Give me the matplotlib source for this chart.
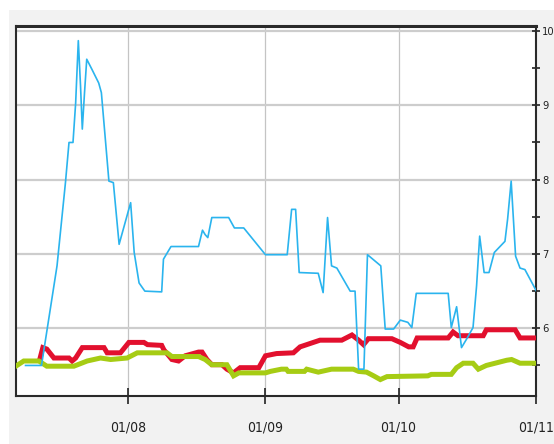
import matplotlib
matplotlib.use("Agg")
import matplotlib.pyplot as plt
import matplotlib.dates as mdates
from matplotlib.patches import Rectangle
from matplotlib.ticker import MultipleLocator
import pandas as pd

# ---- data (x = days relative to 1 Aug, y = value) ----
base_date = "2023-08-01"

blue_days = [-23.1, -19.5, -16.0, -14.1, -13.3, -12.4, -11.8, -11.2, -10.7, -10.3,
             -9.8, -9.3, -8.1, -6.6, -6.0, -4.3, -3.3, -2.0, 0.6, 1.4,
             2.5, 3.8, 7.6, 8.0, 9.7, 15.9, 16.8, 17.4, 18.0, 18.9,
             22.7, 24.0, 26.1, 31.0, 35.9, 36.9, 37.8, 38.6, 42.9, 44.0,
             45.0, 45.9, 47.1, 50.1, 51.2, 52.0, 53.2, 54.0, 57.0, 58.0,
             59.9, 61.4, 63.1, 64.0, 65.0, 72.2, 72.9, 74.1, 75.2, 76.5,
             77.8, 78.6, 79.3, 80.3, 81.4, 82.6, 85.0, 85.6, 86.4, 87.4,
             88.4, 89.5, 92.1]
blue_vals = [5.50, 5.50, 6.84, 7.96, 8.50, 8.50, 9.03, 9.87, 9.26, 8.68,
             9.17, 9.62, 9.48, 9.30, 9.17, 7.98, 7.96, 7.13, 7.69, 7.02,
             6.61, 6.50, 6.49, 6.93, 7.10, 7.10, 7.32, 7.26, 7.22, 7.49,
             7.49, 7.35, 7.35, 6.99, 6.99, 7.60, 7.60, 6.75, 6.74, 6.48,
             7.49, 6.84, 6.81, 6.50, 6.50, 5.45, 5.45, 6.99, 6.84, 5.99,
             5.99, 6.11, 6.08, 6.01, 6.47, 6.47, 6.01, 6.29, 5.74, 5.87,
             6.01, 6.57, 7.24, 6.75, 6.75, 7.02, 7.17, 7.47, 7.98, 6.97,
             6.81, 6.79, 6.50]

red_days = [-19.9, -19.2, -18.3, -16.7, -13.3, -12.6, -11.8, -10.3, -5.4, -4.7,
            -1.7, 0.2, 3.6, 4.4, 7.6, 8.1, 9.9, 11.4, 12.9, 15.9,
            16.7, 17.8, 18.9, 21.2, 22.3, 23.8, 25.3, 29.5, 31.0, 33.5,
            37.3, 38.8, 41.8, 43.3, 48.2, 50.5, 52.0, 53.1, 54.2, 59.5,
            61.4, 63.3, 64.3, 65.2, 72.2, 73.3, 74.4, 80.1, 80.8, 87.3,
            88.4, 92.1]
red_vals = [5.58, 5.74, 5.72, 5.60, 5.60, 5.56, 5.60, 5.74, 5.74, 5.67,
            5.67, 5.81, 5.81, 5.78, 5.77, 5.71, 5.58, 5.56, 5.63, 5.68,
            5.68, 5.58, 5.51, 5.51, 5.45, 5.40, 5.47, 5.47, 5.63, 5.66,
            5.67, 5.75, 5.81, 5.84, 5.84, 5.91, 5.84, 5.78, 5.86, 5.86,
            5.81, 5.75, 5.75, 5.87, 5.87, 5.95, 5.90, 5.90, 5.98, 5.98,
            5.87, 5.87]

green_days = [-25.3, -23.5, -20.1, -18.3, -12.2, -9.2, -6.2, -3.9, -0.2, 2.1,
              8.8, 9.9, 15.9, 17.4, 18.9, 22.3, 23.8, 25.0, 31.0, 32.1,
              34.6, 35.7, 36.1, 39.8, 40.3, 42.9, 45.9, 50.8, 52.0, 53.8,
              55.4, 56.9, 58.4, 67.6, 68.4, 72.9, 74.1, 75.6, 77.8, 79.0,
              80.8, 85.4, 86.5, 88.4, 92.1]
green_vals = [5.49, 5.56, 5.56, 5.49, 5.49, 5.56, 5.60, 5.58, 5.60, 5.67,
              5.67, 5.62, 5.62, 5.58, 5.51, 5.51, 5.36, 5.40, 5.40, 5.42,
              5.45, 5.45, 5.42, 5.42, 5.45, 5.41, 5.45, 5.45, 5.42, 5.41,
              5.36, 5.31, 5.35, 5.36, 5.38, 5.38, 5.47, 5.53, 5.53, 5.45,
              5.50, 5.57, 5.58, 5.53, 5.53]

y_ticks = [6, 7, 8, 9, 10]

# ---- figure ----
W, H = 554, 444
fig = plt.figure(figsize=(W / 100, H / 100), dpi=100, facecolor="white")
fig.patches.append(Rectangle((9 / W, 0), 1 - 9 / W, 1 - 10 / H,
                             transform=fig.transFigure, facecolor="#f2f2f2",
                             edgecolor="none", zorder=-10))

L, R, T, B = 16, 536, 26, 396
ax = fig.add_axes([L / W, (H - B) / H, (R - L) / W, (B - T) / H])
ax.set_facecolor("white")

base = pd.Timestamp(base_date)
def to_dates(days):
    return base + pd.to_timedelta(days, unit="D")

ax.plot(to_dates(red_days), red_vals, color="#e2102e", lw=3.6,
        solid_joinstyle="miter", zorder=3)
ax.plot(to_dates(green_days), green_vals, color="#a6cc14", lw=3.6,
        solid_joinstyle="miter", zorder=4)
ax.plot(to_dates(blue_days), blue_vals, color="#2ab4ee", lw=1.2, zorder=5)

ax.set_xlim(base - pd.Timedelta(days=25.25), pd.Timestamp("2023-11-01"))
ax.set_ylim(5.089, 10.067)

ax.xaxis.set_major_locator(mdates.MonthLocator())
ax.xaxis.set_major_formatter(mdates.DateFormatter("%d/%m"))
ax.yaxis.tick_right()
ax.set_yticks(y_ticks)
ax.yaxis.set_minor_locator(MultipleLocator(0.5))

ax.tick_params(axis="x", which="major", direction="inout", length=12, width=1.2,
               color="#222222", pad=11.5, labelsize=10)
ax.tick_params(axis="y", which="both", direction="inout", length=6, width=1.2,
               color="#222222", pad=1.5, labelsize=8)
for lab in ax.get_xticklabels() + ax.get_yticklabels():
    lab.set_family(["DejaVu Sans"])
    lab.set_stretch("condensed")
    lab.set_color("#222222")

ax.grid(axis="y", which="major", color="#cdcdcd", lw=1.6, zorder=0)
ax.grid(axis="x", which="major", color="#c4c4c4", lw=0.9, zorder=0)
ax.set_axisbelow(True)

for side, sp in ax.spines.items():
    sp.set_color("#2a2a2a")
    sp.set_linewidth(1.5)
ax.spines["top"].set_linewidth(2.2)

fig.savefig("out.png", dpi=100, facecolor=fig.get_facecolor())
